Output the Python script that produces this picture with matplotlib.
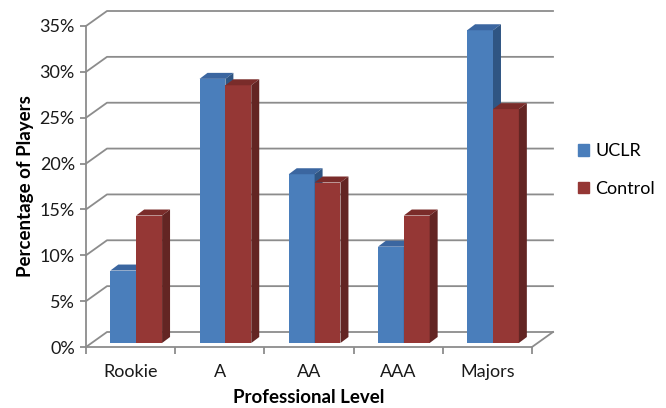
import matplotlib
matplotlib.use("Agg")
import matplotlib.pyplot as plt
from matplotlib.patches import Polygon, Patch
from matplotlib.ticker import PercentFormatter

plt.rcParams['font.family'] = ['Lato', 'DejaVu Sans']

levels = ['Rookie', 'A', 'AA', 'AAA', 'Majors']
uclr = [7.9, 28.8, 18.4, 10.5, 34.1]
control = [13.9, 28.1, 17.5, 13.9, 25.5]

# face colours: front, top, side
blue = ('#4a7ebb', '#3b66a0', '#2f5583')
red = ('#953735', '#7a2c2a', '#632523')
grid_col = '#8c8c8c'

W, H = 666, 408
fig = plt.figure(figsize=(W / 100, H / 100), dpi=100)
# front plane of the 3-D box, placed in pixels
x0, y0, wpx, hpx = 86, 61, 446, 321
ax = fig.add_axes([x0 / W, y0 / H, wpx / W, hpx / H])
ax.set_xlim(-0.5, 4.5)
ax.set_ylim(0, 35)

sx = 5 / wpx        # data units per pixel
sy = 35 / hpx
DX, DY = 21 * sx, 15 * sy   # depth of the box

# side wall + back wall gridlines
for g in range(0, 36, 5):
    ax.plot([-0.5, -0.5 + DX, 4.5 + DX], [g, g + DY, g + DY],
            color=grid_col, lw=1.3, clip_on=False, zorder=1)
# right edge of floor
ax.plot([4.5, 4.5 + DX], [0, DY], color=grid_col, lw=1.3, clip_on=False, zorder=1)

# bars sit a little behind the front plane
f0, fd = 4 / 15, 6 / 15
bw = 0.29
ox, oy = f0 * DX, f0 * DY
bx, by = fd * DX * 0.95, fd * DY


def bar3d(x, v, cols):
    left, bot = x + ox, oy
    ax.bar(left, v, width=bw, bottom=bot, align='edge', color=cols[0],
           lw=0, zorder=3, clip_on=False)
    top = bot + v
    ax.add_patch(Polygon([(left, top), (left + bw, top), (left + bw + bx, top + by),
                          (left + bx, top + by)], closed=True, color=cols[1],
                         lw=0, zorder=3, clip_on=False))
    ax.add_patch(Polygon([(left + bw, bot), (left + bw + bx, bot + by),
                          (left + bw + bx, top + by), (left + bw, top)], closed=True,
                         color=cols[2], lw=0, zorder=3, clip_on=False))


for i in range(len(levels)):
    bar3d(i - bw, uclr[i], blue)
    bar3d(i, control[i], red)

for s in ['top', 'right']:
    ax.spines[s].set_visible(False)
for s in ['left', 'bottom']:
    ax.spines[s].set_color(grid_col)
    ax.spines[s].set_linewidth(1.3)

ax.set_yticks(range(0, 36, 5))
ax.yaxis.set_major_formatter(PercentFormatter(xmax=100, decimals=0))
ax.tick_params(axis='y', length=4, width=1.3, color=grid_col, pad=4,
               labelsize=13, labelcolor='#1a1a1a')

ax.set_xticks(range(len(levels)))
ax.set_xticklabels(levels)
ax.set_xticks([i - 0.5 for i in range(len(levels) + 1)], minor=True)
ax.tick_params(axis='x', which='major', length=0, pad=12, labelsize=13,
               labelcolor='#1a1a1a')
ax.tick_params(axis='x', which='minor', length=5, width=1.3, color=grid_col)

ax.set_xlabel('Professional Level', fontsize=13.5, fontweight='bold', labelpad=7)
ax.set_ylabel('Percentage of Players', fontsize=13.5, fontweight='bold', labelpad=4)

handles = [Patch(color=blue[0], label='UCLR'), Patch(color=red[0], label='Control')]
fig.legend(handles=handles, loc='center left', bbox_to_anchor=(562 / W, 1 - 170 / H),
           frameon=False, fontsize=13, handlelength=0.6, handleheight=0.6,
           handletextpad=0.35, labelspacing=1.2)

fig.savefig('out.png', dpi=100)
